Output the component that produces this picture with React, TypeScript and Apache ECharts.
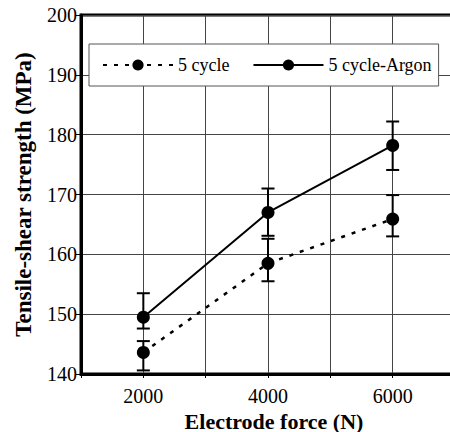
import React, { useEffect, useRef } from "react";
import * as echarts from "echarts";

const forces = [2000, 4000, 6000];
const cycleMean = [143.6, 158.5, 165.9];
const cycleLow = [140.6, 155.5, 163.0];
const cycleHigh = [145.5, 162.6, 169.9];
const argonMean = [149.5, 167.0, 178.2];
const argonLow = [147.6, 163.1, 174.1];
const argonHigh = [153.5, 171.0, 182.2];
const seriesNames = ["5 cycle", "5 cycle-Argon"];

const FONT = "Liberation Serif, DejaVu Serif, serif";

function errorSeries(low: number[], high: number[]) {
  return {
    type: "custom",
    silent: true,
    z: 3,
    clip: false,
    data: forces.map((f, i) => [f, low[i], high[i]]),
    renderItem: (params: any, api: any) => {
      const x = api.value(0);
      const lo = api.coord([x, api.value(1)]);
      const hi = api.coord([x, api.value(2)]);
      const half = 6.5;
      const style = { stroke: "#000", lineWidth: 2 };
      return {
        type: "group",
        children: [
          { type: "line", shape: { x1: lo[0], y1: lo[1], x2: hi[0], y2: hi[1] }, style },
          { type: "line", shape: { x1: lo[0] - half, y1: lo[1], x2: lo[0] + half, y2: lo[1] }, style },
          { type: "line", shape: { x1: hi[0] - half, y1: hi[1], x2: hi[0] + half, y2: hi[1] }, style },
        ],
      };
    },
  };
}

export default function App() {
  const ref = useRef<HTMLDivElement>(null);
  useEffect(() => {
    if (!ref.current) return;
    const chart = echarts.init(ref.current, null, { renderer: "svg" });
    chart.setOption({
      animation: false,
      backgroundColor: "#fff",
      textStyle: { fontFamily: FONT, color: "#000" },
      grid: {
        left: 81,
        top: 15,
        width: 374,
        bottom: 58,
        outerBoundsMode: "none",
        show: true,
        borderColor: "#000",
        borderWidth: 3,
      },
      legend: {
        left: 89,
        top: 44,
        data: seriesNames,
        orient: "horizontal",
        backgroundColor: "#fff",
        borderColor: "#555",
        borderWidth: 1,
        padding: [12, 7, 12, 13],
        itemWidth: 70,
        itemHeight: 14,
        itemGap: 23,
        textStyle: { fontFamily: FONT, fontSize: 18, color: "#000" },
      },
      xAxis: {
        type: "value",
        min: 1000,
        max: 7000,
        interval: 1000,
        name: "Electrode force (N)",
        nameLocation: "middle",
        nameGap: 28,
        nameTextStyle: {
          fontFamily: FONT,
          fontSize: 22,
          lineHeight: 22,
          fontWeight: "bold",
          color: "#000",
          padding: [0, 0, 0, 12],
        },
        axisLine: { show: true, onZero: false, lineStyle: { color: "#000", width: 3 } },
        axisTick: { show: true, length: 4, lineStyle: { color: "#000", width: 1 } },
        axisLabel: {
          fontFamily: FONT,
          fontSize: 20,
          color: "#000",
          margin: 12,
          formatter: (v: number) => (v % 2000 === 0 && v >= 2000 && v <= 6000 ? String(v) : ""),
        },
        splitLine: { show: true, lineStyle: { color: "#444", width: 1 } },
      },
      yAxis: {
        type: "value",
        min: 140,
        max: 200,
        interval: 10,
        name: "Tensile-shear strength (MPa)",
        nameLocation: "middle",
        nameGap: 46,
        nameTextStyle: { fontFamily: FONT, fontSize: 23, fontWeight: "bold", color: "#000" },
        axisLine: { show: true, lineStyle: { color: "#000", width: 3 } },
        axisTick: { show: true, length: 5, lineStyle: { color: "#000", width: 1 } },
        axisLabel: { fontFamily: FONT, fontSize: 20, color: "#000", margin: 4 },
        splitLine: { show: true, lineStyle: { color: "#444", width: 1 } },
      },
      series: [
        errorSeries(cycleLow, cycleHigh),
        errorSeries(argonLow, argonHigh),
        {
          name: seriesNames[0],
          type: "line",
          z: 4,
          data: forces.map((f, i) => [f, cycleMean[i]]),
          symbol: "circle",
          symbolSize: 13,
          itemStyle: { color: "#000" },
          lineStyle: { color: "#000", width: 2.5, type: [4, 7] },
        },
        {
          name: seriesNames[1],
          type: "line",
          z: 4,
          data: forces.map((f, i) => [f, argonMean[i]]),
          symbol: "circle",
          symbolSize: 13,
          itemStyle: { color: "#000" },
          lineStyle: { color: "#000", width: 2 },
        },
      ],
    });
    return () => chart.dispose();
  }, []);
  return (
    <div
      ref={ref}
      style={{ position: "fixed", left: 0, top: 0, width: 450, height: 432, background: "#fff" }}
    />
  );
}
